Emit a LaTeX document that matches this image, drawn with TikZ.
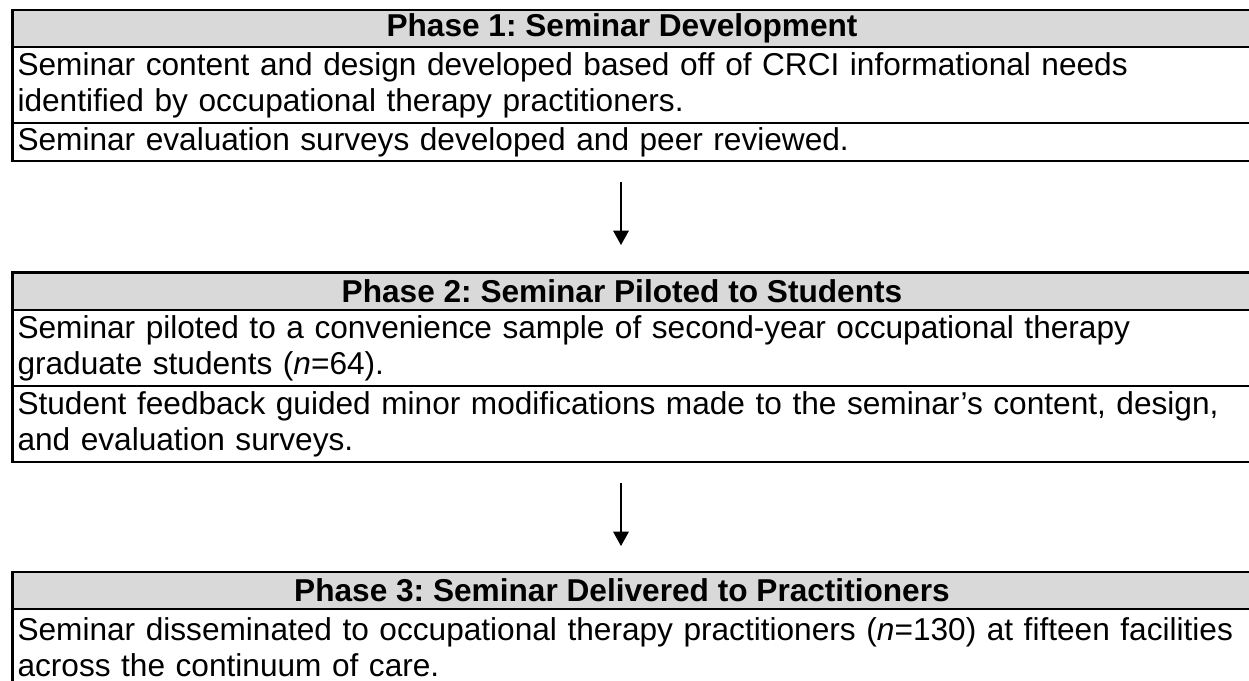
\documentclass[tikz,border=0pt]{standalone}
\usepackage{fontspec}
\setmainfont{Liberation Sans}
\usetikzlibrary{arrows.meta}
\frenchspacing

\begin{document}
\begin{tikzpicture}[x=0.3795pt,y=-0.3795pt,>={Triangle[width=6pt,length=5.5pt]},
  every node/.style={font=\fontsize{12pt}{13.8pt}\selectfont},
  head node/.style={font=\fontsize{12pt}{13.8pt}\selectfont\bfseries,inner sep=0pt},
  row node/.style={anchor=west,align=left,text width=474pt,inner sep=0pt},
  frame/.style={line width=0.8pt},
  rule/.style={line width=0.55pt},
  head fill/.style={fill=black!15}]
  \useasboundingbox (0,0) rectangle (1249,680);
  \clip (0,0) rectangle (1249,680);
  % phase 1
  \fill[head fill] (12.5,10) rectangle (1260,47);
  \draw[frame] (1260,10) -- (12.5,10) -- (12.5,161) -- (1260,161);
  \draw[rule] (12.5,47) -- (1260,47);
  \draw[rule] (12.5,123) -- (1260,123);
  \node[head node] (h1)  at (622,28.5) {Phase 1: Seminar Development};
  \node[row node]  (r1a) at (17,85)    {Seminar content and design developed based off of CRCI informational needs\\identified by occupational therapy practitioners.};
  \node[row node]  (r1b) at (17,142)   {Seminar evaluation surveys developed and peer reviewed.};
  % phase 2
  \fill[head fill] (12.5,272.5) rectangle (1260,310);
  \draw[frame] (1260,272.5) -- (12.5,272.5) -- (12.5,462) -- (1260,462);
  \draw[rule] (12.5,310) -- (1260,310);
  \draw[rule] (12.5,386) -- (1260,386);
  \node[head node] (h2)  at (622,291)  {Phase 2: Seminar Piloted to Students};
  \node[row node]  (r2a) at (17,348)   {Seminar piloted to a convenience sample of second-year occupational therapy\\graduate students (\textit{n}=64).};
  \node[row node]  (r2b) at (17,424)   {Student feedback guided minor modifications made to the seminar’s content, design,\\and evaluation surveys.};
  % phase 3
  \fill[head fill] (12.5,572) rectangle (1260,609);
  \draw[frame] (1260,572) -- (12.5,572) -- (12.5,690);
  \draw[rule] (12.5,609) -- (1260,609);
  \node[head node] (h3)  at (622,590.5) {Phase 3: Seminar Delivered to Practitioners};
  \node[row node]  (r3a) at (17,647)   {Seminar disseminated to occupational therapy practitioners (\textit{n}=130) at fifteen facilities\\across the continuum of care.};
  % arrows
  \coordinate (a1s) at (621,182);
  \coordinate (a1e) at (621,245);
  \coordinate (a2s) at (621,483);
  \coordinate (a2e) at (621,546);
  \draw[->,line width=0.4pt] (a1s) -- (a1e);
  \draw[->,line width=0.4pt] (a2s) -- (a2e);
\end{tikzpicture}
\end{document}
